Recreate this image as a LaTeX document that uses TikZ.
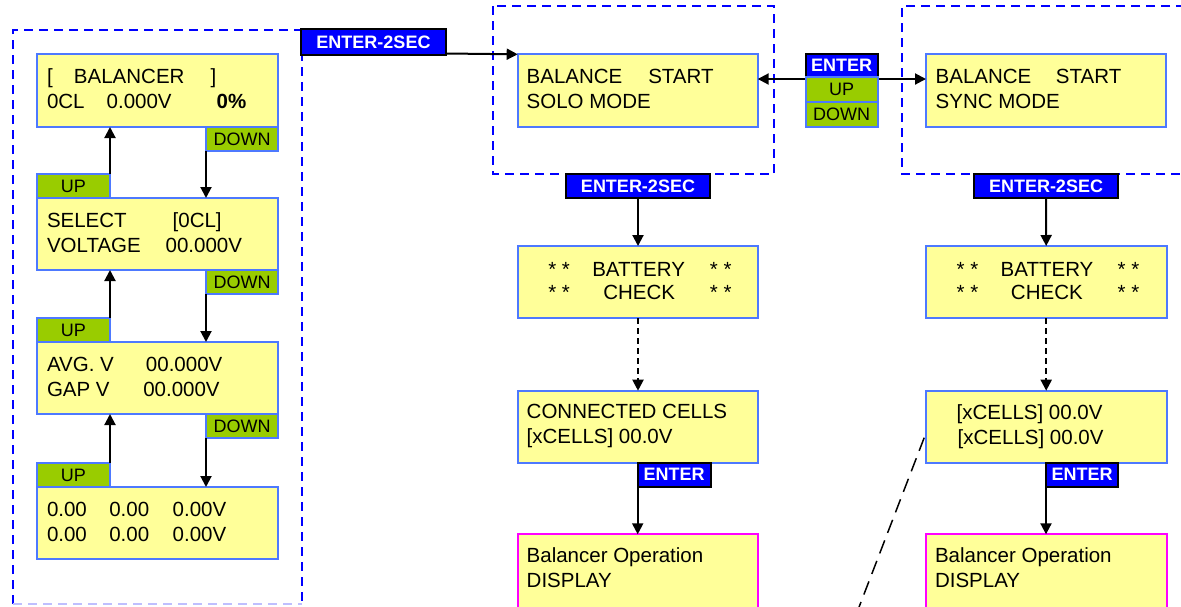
\documentclass[tikz,border=0pt]{standalone}
\usepackage{fontspec}
\setmainfont{Liberation Sans}
\usetikzlibrary{arrows.meta,calc}
\definecolor{lcdfill}{RGB}{255,255,153}
\definecolor{lcdline}{RGB}{77,121,255}
\definecolor{keygreen}{RGB}{153,204,0}
\definecolor{keyblue}{RGB}{0,0,255}
\definecolor{frameblue}{RGB}{0,0,255}
\definecolor{opmag}{RGB}{255,0,255}
\tikzset{
 lcd/.style={draw=lcdline, fill=lcdfill, line width=1.8pt, anchor=north west, inner sep=0pt, outer sep=0pt},
 opbox/.style={lcd, draw=opmag},
 keyg/.style={draw=lcdline, fill=keygreen, line width=1.8pt, anchor=north west, inner sep=0pt, outer sep=0pt, font=\fontsize{18}{20}\selectfont, text=black},
 keyb/.style={draw=black, fill=keyblue, line width=1.8pt, anchor=north west, inner sep=0pt, outer sep=0pt, font=\bfseries\fontsize{18}{20}\selectfont, text=white},
 txt/.style={anchor=base west, inner sep=0pt, outer sep=0pt, font=\fontsize{20.5}{25}\selectfont},
 frame/.style={draw=frameblue, line width=2pt, dash pattern=on 9pt off 6pt},
 arr/.style={draw=black, line width=2pt, -{Triangle[length=11pt,width=11pt]}},
 darr/.style={arr, dash pattern=on 6pt off 4pt},
 diag/.style={draw=black, line width=1.5pt, dash pattern=on 14pt off 8pt},
}
\begin{document}
\begin{tikzpicture}[x=1pt,y=-1pt]
\useasboundingbox (0,0) rectangle (1181,606);
\clip (0,0) rectangle (1181,606);
\fill[white] (0,0) rectangle (1181,606);

% group frames
\draw[frame] (13,604) -- (13,30) -- (302,30) -- (302,604);
\draw[frame, draw=frameblue!25] (13,604) -- (302,604);
\draw[frame] (493,6) rectangle (774,174);
\draw[frame] (1200,6) -- (902,6) -- (902,174) -- (1200,174);

% ---------- left column ----------
\node[lcd, minimum width=241pt, minimum height=73pt] (bal) at (37,54) {};
\node[txt] (bal1) at (47,83) {\makebox[27pt][l]{[}\makebox[136.7pt][l]{BALANCER}]};
\node[txt] (bal2) at (47,108) {\makebox[59.7pt][l]{0CL}\makebox[110pt][l]{0.000V}\textbf{0\%}};
\node[keyg, minimum width=72pt, minimum height=24pt] (dn1) at (206,127) {DOWN};
\node[keyg, minimum width=73pt, minimum height=24pt] (up1) at (37,174) {UP};

\node[lcd, minimum width=241pt, minimum height=72pt] (sel) at (37,198) {};
\node[txt] (sel1) at (47,227) {\makebox[125.7pt][l]{SELECT}[0CL]};
\node[txt] (sel2) at (47,252) {\makebox[118.7pt][l]{VOLTAGE}00.000V};
\node[keyg, minimum width=72pt, minimum height=24pt] (dn2) at (206,270) {DOWN};
\node[keyg, minimum width=73pt, minimum height=24pt] (up2) at (37,318) {UP};

\node[lcd, minimum width=241pt, minimum height=72pt] (avg) at (37,342) {};
\node[txt] (avg1) at (47,371) {\makebox[99pt][l]{AVG. V}00.000V};
\node[txt] (avg2) at (47,396) {\makebox[96.3pt][l]{GAP V}00.000V};
\node[keyg, minimum width=72pt, minimum height=24pt] (dn3) at (206,414) {DOWN};
\node[keyg, minimum width=73pt, minimum height=24pt] (up3) at (37,463) {UP};

\node[lcd, minimum width=241pt, minimum height=72pt] (cel) at (37,487) {};
\node[txt] (cel1) at (47,516) {\makebox[62.3pt][l]{0.00}\makebox[63.4pt][l]{0.00}0.00V};
\node[txt] (cel2) at (47,541) {\makebox[62.3pt][l]{0.00}\makebox[63.4pt][l]{0.00}0.00V};

\draw[arr] (up1.north east) -- (up1.north east |- bal.south);
\draw[arr] (dn1.south west) -- (dn1.south west |- sel.north);
\draw[arr] (up2.north east) -- (up2.north east |- sel.south);
\draw[arr] (dn2.south west) -- (dn2.south west |- avg.north);
\draw[arr] (up3.north east) -- (up3.north east |- avg.south);
\draw[arr] (dn3.south west) -- (dn3.south west |- cel.north);

% ---------- top mode selection ----------
\node[keyb, minimum width=145pt, minimum height=26pt] (e2top) at (301,29) {ENTER-2SEC};
\node[lcd, minimum width=240pt, minimum height=72.5pt] (solo) at (517.7,54.3) {};
\node[txt] (solo1) at (526.7,83) {\makebox[121.6pt][l]{BALANCE}START};
\node[txt] (solo2) at (526.7,108) {SOLO MODE};
\node[lcd, minimum width=240pt, minimum height=72.5pt] (sync) at (926,54.3) {};
\node[txt] (sync1) at (935.7,83) {\makebox[120.3pt][l]{BALANCE}START};
\node[txt] (sync2) at (935.7,108) {SYNC MODE};
\draw[arr] ($(e2top.south east)+(0,-1.5)$) -- (solo.north west);

\coordinate (mid) at (841.7,79);
\draw[arr] (mid) -- (mid -| solo.east);
\draw[arr] (mid) -- (mid -| sync.west);
\node[keyb, minimum width=72pt, minimum height=23pt] (sken) at (805.7,54.3) {ENTER};
\node[keyg, minimum width=72pt, minimum height=24.4pt] (skup) at (805.7,77.3) {UP};
\node[keyg, minimum width=72pt, minimum height=25pt] (skdn) at (805.7,101.7) {DOWN};

% ---------- solo column ----------
\node[keyb, minimum width=144pt, minimum height=24pt] (e2solo) at (566,174) {ENTER-2SEC};
\node[lcd, minimum width=240.6pt, minimum height=72pt] (batsolo) at (517.7,246) {};
\node[txt] (bs1) at (548.3,276) {\makebox[44pt][l]{* *}\makebox[117.7pt][l]{BATTERY}* *};
\node[txt] (bs2) at (548.3,299) {\makebox[55pt][l]{* *}\makebox[106.7pt][l]{CHECK}* *};
\node[lcd, minimum width=240.6pt, minimum height=72pt] (conn) at (517.7,390.7) {};
\node[txt] (cn1) at (526.7,418.3) {CONNECTED CELLS};
\node[txt] (cn2) at (526.7,443) {[xCELLS] 00.0V};
\node[keyb, minimum width=73pt, minimum height=24pt] (ensolo) at (637.7,462.7) {ENTER};
\node[opbox, minimum width=240.6pt, minimum height=90pt] (opsolo) at (517.7,534.3) {};
\node[txt] (os1) at (526.7,562.7) {Balancer Operation};
\node[txt] (os2) at (526.7,587.3) {DISPLAY};
\draw[arr] (e2solo.south) -- (batsolo.north);
\draw[darr] (batsolo.south) -- (conn.north);
\draw[arr] (ensolo.south west) -- (ensolo.south west |- opsolo.north);

% ---------- sync column ----------
\node[keyb, minimum width=144pt, minimum height=24pt] (e2sync) at (974,174) {ENTER-2SEC};
\node[lcd, minimum width=241pt, minimum height=72pt] (batsync) at (925.7,246) {};
\node[txt] (by1) at (956.7,276) {\makebox[44pt][l]{* *}\makebox[117pt][l]{BATTERY}* *};
\node[txt] (by2) at (956.7,299) {\makebox[54.3pt][l]{* *}\makebox[106.7pt][l]{CHECK}* *};
\node[lcd, minimum width=241pt, minimum height=72pt] (xcells) at (925.7,390.7) {};
\node[txt] (xc1) at (956.7,419.3) {[xCELLS] 00.0V};
\node[txt] (xc2) at (957.7,444) {[xCELLS] 00.0V};
\node[keyb, minimum width=72pt, minimum height=24pt] (ensync) at (1046,462.7) {ENTER};
\node[opbox, minimum width=241pt, minimum height=90pt] (opsync) at (925.7,534.3) {};
\node[txt] (oy1) at (935,562.7) {Balancer Operation};
\node[txt] (oy2) at (935,587.3) {DISPLAY};
\draw[arr] (e2sync.south) -- (batsync.north);
\draw[darr] (batsync.south) -- (xcells.north);
\draw[arr] (ensync.south west) -- (ensync.south west |- opsync.north);

\coordinate (dlend) at (856,615);
\draw[diag] ($(xcells.west)+(-1.5,11)$) -- (dlend);
\end{tikzpicture}
\end{document}
